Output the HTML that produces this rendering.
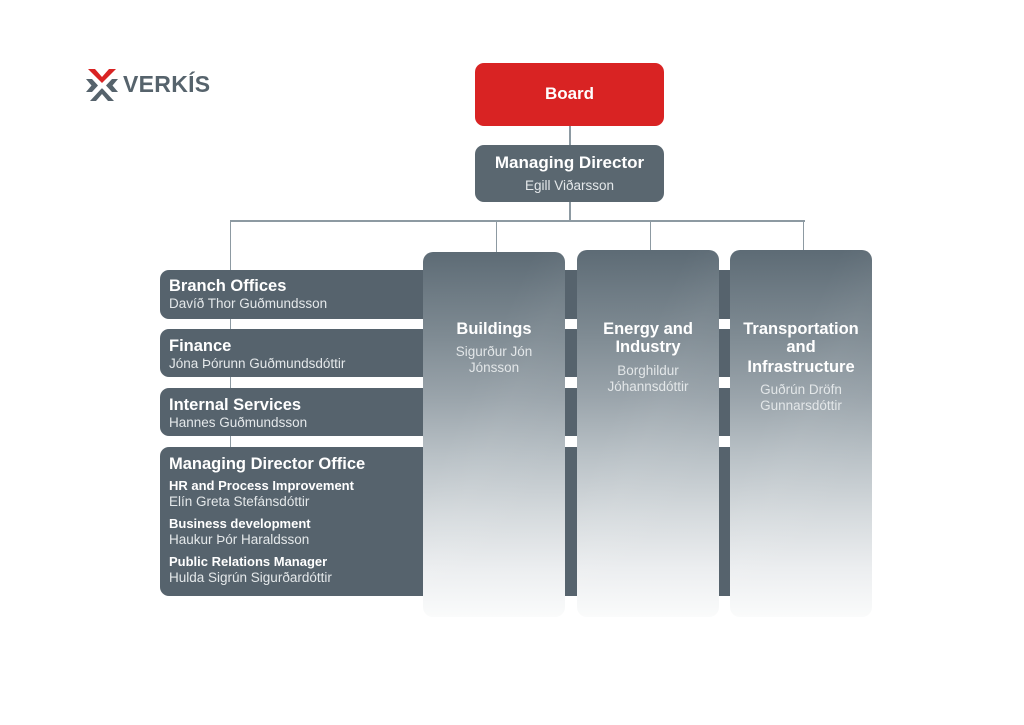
<!DOCTYPE html>
<html>
<head>
<meta charset="utf-8">
<style>
  html,body{margin:0;padding:0;}
  body{width:1024px;height:725px;background:#ffffff;position:relative;overflow:hidden;font-family:"Liberation Sans",Arial,sans-serif;}
  .abs{position:absolute;}
  .line{position:absolute;background:#8d9aa2;}
  .bar{position:absolute;left:160px;width:580px;background:#56636d;border-radius:9px 0 0 9px;}
  .t{position:absolute;white-space:nowrap;color:#ffffff;}
  .tb{font-weight:bold;font-size:16.5px;line-height:20px;height:20px;}
  .ts{font-size:13.5px;line-height:16px;height:16px;color:#e4e8ea;}
  .tsb{font-weight:bold;font-size:13px;line-height:16px;height:16px;color:#ffffff;}
  .col{position:absolute;top:250px;height:367px;border-radius:10px;
       background:linear-gradient(to bottom,#5d6b75 0%,#6f7c85 12%,#808c94 24%,#9aa4ab 40%,#b9c1c6 56%,#d5dadd 72%,#eceef0 87%,#fafbfb 100%);
       overflow:hidden;}
  .col::after{content:"";position:absolute;left:0;top:0;right:0;bottom:0;
       background:linear-gradient(115deg,rgba(255,255,255,0) 35%,rgba(255,255,255,0.04) 50%,rgba(255,255,255,0) 75%);}
  .ct{position:absolute;left:0;width:100%;text-align:center;color:#ffffff;}
  .ctb{font-weight:bold;font-size:16.5px;line-height:19px;height:19px;}
  .cts{font-size:13.5px;line-height:16px;height:16px;color:#e2e6e8;}
</style>
</head>
<body>

<!-- Logo -->
<svg class="abs" style="left:86px;top:69px" width="32" height="32" viewBox="0 0 32 32">
  <polygon points="2,0 9,0 16,8 23,0 30,0 16,14" fill="#d92323"/>
  <polygon points="0,10 6,10 12,16.5 6,23 0,23 5.5,16.5" fill="#56636c"/>
  <polygon points="32,10 26,10 20,16.5 26,23 32,23 26.5,16.5" fill="#56636c"/>
  <polygon points="4,32 10,32 16,25 22,32 28,32 16,19" fill="#56636c"/>
  <rect x="13.5" y="14.5" width="5" height="5" fill="#ffffff"/>
</svg>
<div class="t" style="left:123px;top:71px;font-size:23px;line-height:26px;font-weight:bold;color:#56636c;letter-spacing:0.3px;">VERKÍS</div>

<!-- Connectors -->
<div class="line" style="left:569px;top:126px;width:1.5px;height:20px;"></div>
<div class="line" style="left:569px;top:202px;width:1.5px;height:19px;"></div>
<div class="line" style="left:229.5px;top:220px;width:575px;height:1.5px;"></div>
<div class="line" style="left:229.5px;top:220px;width:1.5px;height:228px;"></div>
<div class="line" style="left:495.5px;top:220px;width:1.5px;height:32px;"></div>
<div class="line" style="left:649.5px;top:220px;width:1.5px;height:31px;"></div>
<div class="line" style="left:802.5px;top:220px;width:1.5px;height:31px;"></div>

<!-- Board -->
<div class="abs" style="left:475px;top:63px;width:189px;height:63px;background:#d92323;border-radius:9px;"></div>
<div class="t" style="left:475px;width:189px;text-align:center;top:84px;font-weight:bold;font-size:17px;line-height:20px;">Board</div>

<!-- Managing Director -->
<div class="abs" style="left:475px;top:145px;width:189px;height:57px;background:#5a6770;border-radius:9px;"></div>
<div class="t" style="left:475px;width:189px;text-align:center;top:153px;font-weight:bold;font-size:17px;line-height:20px;">Managing Director</div>
<div class="t" style="left:475px;width:189px;text-align:center;top:178px;font-size:13.5px;line-height:16px;color:#e4e8ea;">Egill Viðarsson</div>

<!-- Left bars -->
<div class="bar" style="top:270px;height:49px;"></div>
<div class="bar" style="top:329px;height:48px;"></div>
<div class="bar" style="top:388px;height:48px;"></div>
<div class="bar" style="top:447px;height:149px;"></div>

<div class="t tb" style="left:169px;top:276px;">Branch Offices</div>
<div class="t ts" style="left:169px;top:296px;">Davíð Thor Guðmundsson</div>

<div class="t tb" style="left:169px;top:336px;">Finance</div>
<div class="t ts" style="left:169px;top:356px;">Jóna Þórunn Guðmundsdóttir</div>

<div class="t tb" style="left:169px;top:395px;">Internal Services</div>
<div class="t ts" style="left:169px;top:415px;">Hannes Guðmundsson</div>

<div class="t tb" style="left:169px;top:454px;">Managing Director Office</div>
<div class="t tsb" style="left:169px;top:478px;">HR and Process Improvement</div>
<div class="t ts" style="left:169px;top:494px;">Elín Greta Stefánsdóttir</div>
<div class="t tsb" style="left:169px;top:516px;">Business development</div>
<div class="t ts" style="left:169px;top:532px;">Haukur Þór Haraldsson</div>
<div class="t tsb" style="left:169px;top:554px;">Public Relations Manager</div>
<div class="t ts" style="left:169px;top:570px;">Hulda Sigrún Sigurðardóttir</div>

<!-- Columns -->
<div class="col" style="left:423px;top:252px;height:365px;width:142px;">
  <div class="ct ctb" style="top:67.5px;">Buildings</div>
  <div class="ct cts" style="top:92px;">Sigurður Jón</div>
  <div class="ct cts" style="top:108px;">Jónsson</div>
</div>

<div class="col" style="left:577px;width:142px;">
  <div class="ct ctb" style="top:69.5px;">Energy and</div>
  <div class="ct ctb" style="top:88px;">Industry</div>
  <div class="ct cts" style="top:113px;">Borghildur</div>
  <div class="ct cts" style="top:129px;">Jóhannsdóttir</div>
</div>

<div class="col" style="left:730px;width:142px;">
  <div class="ct ctb" style="top:69.5px;">Transportation</div>
  <div class="ct ctb" style="top:88px;">and</div>
  <div class="ct ctb" style="top:107.5px;">Infrastructure</div>
  <div class="ct cts" style="top:132px;">Guðrún Dröfn</div>
  <div class="ct cts" style="top:148px;">Gunnarsdóttir</div>
</div>

</body>
</html>
